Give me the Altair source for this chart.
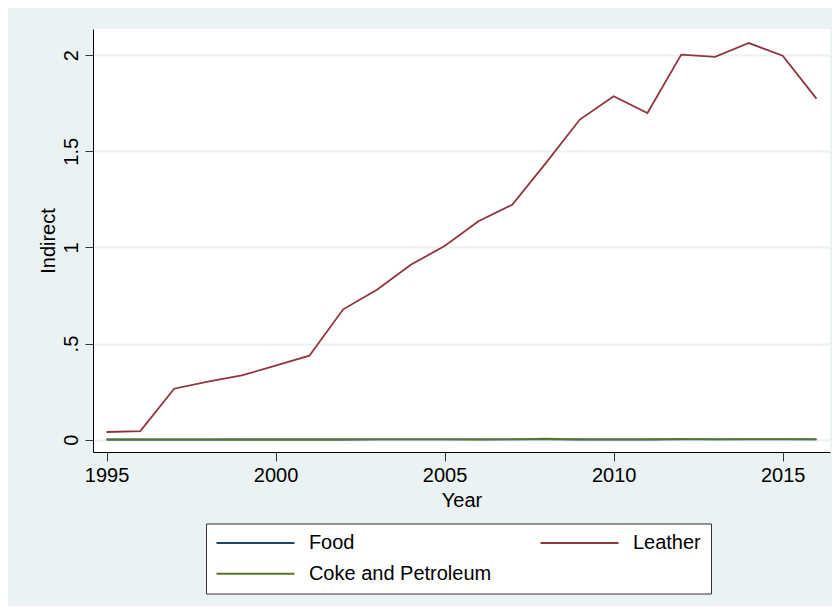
import altair as alt
import pandas as pd

years = [1995, 1996, 1997, 1998, 1999, 2000, 2001, 2002, 2003, 2004, 2005,
         2006, 2007, 2008, 2009, 2010, 2011, 2012, 2013, 2014, 2015, 2016]
food = [0.001, 0.001, 0.001, 0.001, 0.001, 0.001, 0.001, 0.001, 0.002, 0.002, 0.002,
        0.002, 0.002, 0.002, 0.001, 0.001, 0.001, 0.002, 0.002, 0.002, 0.002, 0.002]
leather = [0.040, 0.045, 0.265, 0.302, 0.334, 0.385, 0.437, 0.678, 0.780, 0.910, 1.007,
           1.136, 1.222, 1.440, 1.665, 1.786, 1.699, 2.003, 1.991, 2.063, 1.997, 1.774]
coke = [0.000, 0.000, 0.000, 0.000, 0.001, 0.001, 0.001, 0.001, 0.002, 0.002, 0.002,
        0.001, 0.002, 0.005, 0.002, 0.002, 0.002, 0.004, 0.002, 0.003, 0.003, 0.002]

series_names = ["Food", "Leather", "Coke and Petroleum"]
series_colors = ["#1a476f", "#90353b", "#55752f"]
x_ticks = [1995, 2000, 2005, 2010, 2015]
y_ticks = [0, 0.5, 1, 1.5, 2]

rows = []
for name, vals in zip(series_names, [food, leather, coke]):
    for yr, v in zip(years, vals):
        rows.append({"Year": yr, "Value": v, "Series": name})
df = pd.DataFrame(rows)

FONT = "Liberation Sans"

base = alt.Chart(df).encode(
    x=alt.X(
        "Year:Q",
        scale=alt.Scale(domain=[1994.6, 2016.4], nice=False, zero=False),
        axis=alt.Axis(
            values=x_ticks, format="d", title="Year", grid=False,
            tickSize=9, labelPadding=4, titlePadding=5, labelFlush=False,
        ),
    ),
    y=alt.Y(
        "Value:Q",
        scale=alt.Scale(domain=[-0.064, 2.136], nice=False, zero=False),
        axis=alt.Axis(
            values=y_ticks, format="~g",
            labelExpr="datum.value == 0.5 ? '.5' : datum.label",
            title="Indirect", grid=True, gridColor="#eaf2f3", gridWidth=2,
            labelAngle=270, tickSize=8, labelPadding=4, titlePadding=3,
            labelFlush=False,
        ),
    ),
    color=alt.Color(
        "Series:N",
        scale=alt.Scale(domain=series_names, range=series_colors),
        legend=alt.Legend(
            title=None, orient="none", legendX=113, legendY=494.5,
            direction="horizontal",
            columns=2, symbolType="stroke", symbolSize=6084,
            symbolStrokeWidth=2, clipHeight=20, labelOffset=13.4,
            columnPadding=48, rowPadding=10.7, padding=9.5,
            strokeColor="#333333", fillColor="white",
            labelFontSize=20, labelFont=FONT, labelColor="black",
            labelLimit=400, symbolOffset=0,
            labelExpr="datum.label == 'Leather' ? 'Leather\u00a0' : datum.label",
        ),
    ),
)

lines_main = base.transform_filter(
    alt.datum.Series != "Coke and Petroleum"
).mark_line(strokeWidth=1.8)
lines_coke = base.transform_filter(
    alt.datum.Series == "Coke and Petroleum"
).mark_line(strokeWidth=1.8)

chart = (
    alt.layer(lines_main, lines_coke)
    .properties(
        width=737, height=423,
        autosize=alt.AutoSizeParams(type="none"),
        padding={"left": 85, "top": 21, "right": 2, "bottom": 154},
        background="#eaf2f3",
    )
    .configure_view(fill="white", strokeWidth=0)
    .configure_axis(
        domainColor="black", domainWidth=1, tickColor="#333333", tickWidth=1,
        labelFont=FONT, titleFont=FONT, labelFontSize=20, titleFontSize=20,
        labelColor="black", titleColor="black", titleFontWeight="normal",
    )
)

chart.save("out.html", embed_options={"renderer": "svg", "actions": False})
